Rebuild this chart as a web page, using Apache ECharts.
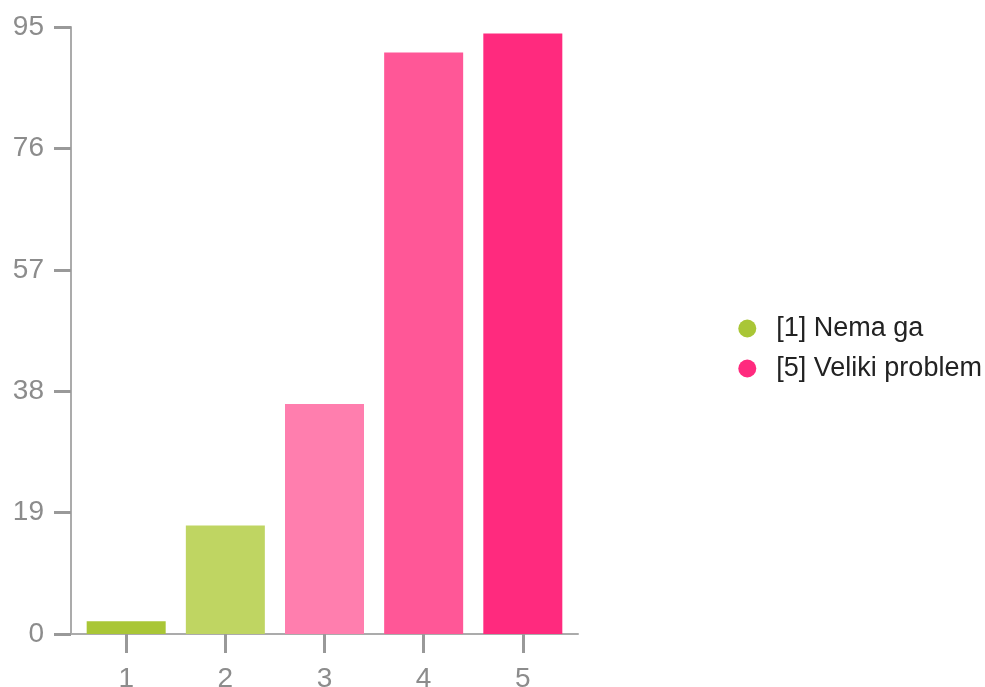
<!DOCTYPE html>
<html>
<head>
<meta charset="utf-8">
<script src="https://cdn.jsdelivr.net/npm/echarts@6/dist/echarts.min.js"></script>
<style>
  html, body { margin: 0; padding: 0; background: #ffffff; }
  #chart { width: 985px; height: 687px; }
</style>
</head>
<body>
<div id="chart"></div>
<script>
// ---- data ----
const categories = ['1', '2', '3', '4', '5'];
const values = [2, 17, 36, 91, 94];
const barColors = ['#a9c636', '#bfd562', '#ff7eae', '#ff5797', '#ff2a7e'];
const legendNames = ['[1] Nema ga', '[5] Veliki problem'];
const legendColors = ['#a9c636', '#ff2a7e'];
const yMin = 0, yMax = 95, yStep = 19;

const FONT = '"Liberation Sans", Arial, sans-serif';
const chart = echarts.init(document.getElementById('chart'), null, { renderer: 'canvas' });

const option = {
  backgroundColor: '#ffffff',
  animation: false,
  grid: [
    { left: 71, top: 27, width: 507, height: 607, containLabel: false, outerBoundsMode: 'none' },
    { left: 76.6, top: 27, width: 495.8, height: 607, containLabel: false, outerBoundsMode: 'none' }
  ],
  legend: {
    orient: 'vertical',
    left: 733.3,
    top: 310,
    icon: 'circle',
    itemWidth: 18,
    itemHeight: 18,
    itemGap: 13,
    data: legendNames.map((n, i) => ({ name: n, itemStyle: { color: legendColors[i], opacity: 1 } })),
    textStyle: {
      fontFamily: FONT,
      fontSize: 27,
      lineHeight: 27,
      color: '#222222',
      padding: [0, 0, 0, 15]
    }
  },
  xAxis: [
    {
      gridIndex: 0, type: 'value', min: 0, max: 1,
      axisLine: { show: true, lineStyle: { color: '#ababab', width: 2 } },
      axisTick: { show: false }, axisLabel: { show: false }, splitLine: { show: false }
    },
    {
      gridIndex: 1, type: 'category', data: categories,
      axisLine: { show: false },
      axisTick: { show: true, alignWithLabel: true, length: 19, lineStyle: { color: '#999999', width: 3 } },
      axisLabel: { fontFamily: FONT, fontSize: 28, color: '#8c8c8c', margin: 31 },
      splitLine: { show: false }
    }
  ],
  yAxis: [
    {
      gridIndex: 0, type: 'value', min: yMin, max: yMax, interval: yStep,
      axisLine: { show: true, lineStyle: { color: '#ababab', width: 2 } },
      axisTick: { show: true, length: 17, lineStyle: { color: '#999999', width: 3 } },
      axisLabel: { fontFamily: FONT, fontSize: 28, color: '#8c8c8c', margin: 27 },
      splitLine: { show: false }
    },
    {
      gridIndex: 1, type: 'value', min: yMin, max: yMax, interval: yStep, show: false
    }
  ],
  series: [
    {
      type: 'bar',
      xAxisIndex: 1, yAxisIndex: 1,
      barWidth: 79,
      data: values.map((v, i) => ({ value: v, itemStyle: { color: barColors[i] } })),
      z: 3
    },
    {
      name: legendNames[0], type: 'scatter', xAxisIndex: 1, yAxisIndex: 1,
      data: [], itemStyle: { color: legendColors[0], opacity: 1 }
    },
    {
      name: legendNames[1], type: 'scatter', xAxisIndex: 1, yAxisIndex: 1,
      data: [], itemStyle: { color: legendColors[1], opacity: 1 }
    }
  ]
};
chart.setOption(option);
</script>
</body>
</html>
